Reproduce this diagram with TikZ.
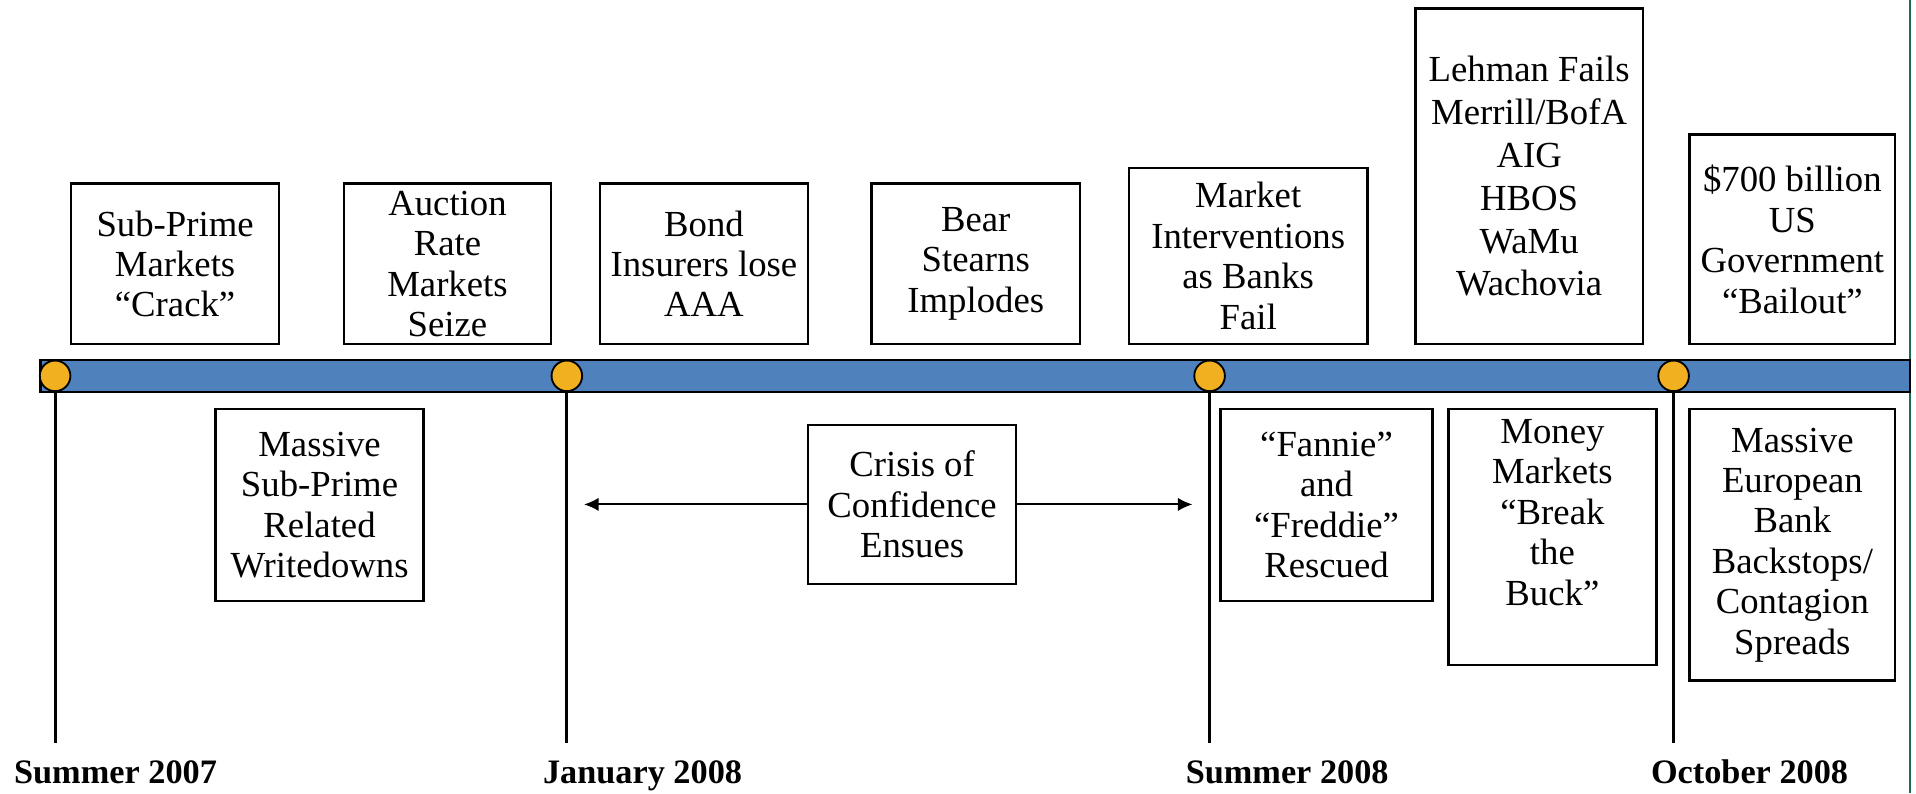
\documentclass[tikz,border=0pt]{standalone}
\usepackage{fontspec}
\setmainfont{Liberation Serif}
\usepackage{tikz}
\usetikzlibrary{arrows.meta}
\definecolor{bar_blue}{RGB}{79,129,189}
\definecolor{dot_gold}{RGB}{240,176,32}
\definecolor{edge_green}{RGB}{31,107,79}

\begin{document}
\begin{tikzpicture}[x=1pt,y=-1pt,>={Latex[length=12pt,width=11pt]}]
    \tikzstyle{event}=[draw, line width=2pt, fill=white, align=center, inner sep=0pt, font=\fontsize{30}{33}\selectfont]
    \tikzstyle{date}=[anchor=base west, font=\fontsize{28}{33}\selectfont\bfseries]
    \tikzstyle{dot}=[draw, circle, line width=1.5pt, fill=dot_gold, minimum size=25pt, inner sep=0pt]
    \tikzstyle{stick}=[line width=2.5pt]

    \useasboundingbox (0,0) rectangle (1565,648);
    \draw[edge_green, line width=2pt] (1560,0) -- (1560,648);

    % timeline bar
    \draw[line width=2pt, fill=bar_blue] (33,294) rectangle (1560,320);

    % events above the bar
    \node[event, minimum width=170pt, minimum height=131pt] (A) at (143,215.5)  {Sub-Prime\\Markets\\“Crack”};
    \node[event, minimum width=169pt, minimum height=131pt] (B) at (365.5,215.5) {Auction\\Rate\\Markets\\Seize};
    \node[event, minimum width=170pt, minimum height=131pt] (C) at (575,215.5)  {Bond\\Insurers lose\\AAA};
    \node[event, minimum width=170pt, minimum height=131pt] (D) at (797,215.5)  {Bear\\Stearns\\Implodes};
    \node[event, minimum width=195pt, minimum height=144pt] (E) at (1019.5,209) {Market\\Interventions\\as Banks\\Fail};
    \node[event, minimum width=186pt, minimum height=274pt, font=\fontsize{30}{35}\selectfont] (F) at (1249,144) {Lehman Fails\\Merrill/BofA\\AIG\\HBOS\\WaMu\\Wachovia};
    \node[event, minimum width=168pt, minimum height=171pt] (G) at (1464,195.5) {\$700 billion\\US\\Government\\“Bailout”};

    % events below the bar
    \node[event, minimum width=170pt, minimum height=157pt] (H) at (261,412.5)  {Massive\\Sub-Prime\\Related\\Writedowns};
    \node[event, minimum width=170pt, minimum height=130pt] (I) at (745,412)    {Crisis of\\Confidence\\Ensues};
    \node[event, minimum width=173pt, minimum height=157pt] (J) at (1083.5,412.5) {“Fannie”\\and\\“Freddie”\\Rescued};
    \node[event, minimum width=170pt, minimum height=209pt, text depth=40pt] (K) at (1268,438.5) {Money\\Markets\\“Break\\the\\Buck”};
    \node[event, minimum width=168pt, minimum height=222pt] (L) at (1464,445)   {Massive\\European\\Bank\\Backstops/\\Contagion\\Spreads};

    % milestones
    \coordinate (s1) at (45,607);
    \coordinate (s2) at (463,607);
    \coordinate (s3) at (988,607);
    \coordinate (s4) at (1367,607);
    \node[dot] (m1) at (45,307)   {};
    \node[dot] (m2) at (463,307)  {};
    \node[dot] (m3) at (988,307)  {};
    \node[dot] (m4) at (1367,307) {};
    \path[stick]
     (m1) edge (s1)
     (m2) edge (s2)
     (m3) edge (s3)
     (m4) edge (s4);

    \coordinate (lft) at (477,412);
    \coordinate (rgt) at (974,412);
    \path[->, line width=1.6pt]
     (I) edge (lft)
     (I) edge (rgt);

    \node[date] (d1) at (8,640)    {Summer 2007};
    \node[date] (d2) at (440,640)  {January 2008};
    \node[date] (d3) at (965,640)  {Summer 2008};
    \node[date] (d4) at (1345,640) {October 2008};
\end{tikzpicture}
\end{document}
